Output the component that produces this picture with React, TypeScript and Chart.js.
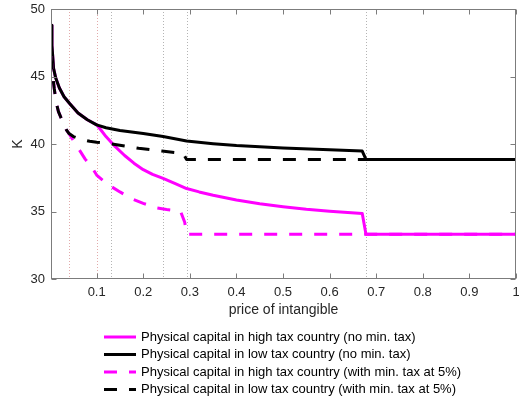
import React, { useEffect, useRef } from "react";
import { Chart, registerables } from "chart.js";

Chart.register(...registerables);

// Price of intangible (x) and physical capital K (y) for each scenario
const hiNoMinX = [0.002, 0.004, 0.0075, 0.012, 0.02, 0.03, 0.042, 0.06, 0.08, 0.1, 0.11, 0.12, 0.14, 0.16, 0.18, 0.2, 0.22, 0.2426, 0.27, 0.293, 0.32, 0.35, 0.4, 0.45, 0.5, 0.55, 0.6, 0.67, 0.678, 1];
const hiNoMinY = [48.8, 47.3, 45.6, 44.9, 44.15, 43.5, 43.0, 42.3, 41.8, 41.42, 41.0, 40.55, 39.8, 39.15, 38.58, 38.1, 37.75, 37.45, 37.05, 36.7, 36.45, 36.2, 35.85, 35.58, 35.36, 35.17, 35.02, 34.85, 33.31, 33.31];

const loNoMinX = [0.002, 0.004, 0.0075, 0.012, 0.02, 0.03, 0.042, 0.06, 0.08, 0.1, 0.12, 0.15, 0.2, 0.2426, 0.293, 0.35, 0.4, 0.5, 0.6, 0.67, 0.678, 1];
const loNoMinY = [48.8, 47.3, 45.6, 44.9, 44.15, 43.5, 43.0, 42.3, 41.8, 41.42, 41.2, 41.0, 40.78, 40.55, 40.22, 40.02, 39.88, 39.7, 39.57, 39.48, 38.86, 38.86];

const hiMinX = [0.002, 0.004, 0.006, 0.009, 0.013, 0.018, 0.024, 0.03, 0.035, 0.04, 0.05, 0.063, 0.075, 0.09, 0.1, 0.124, 0.15, 0.178, 0.2, 0.228, 0.25, 0.28, 0.289, 0.293, 1];
const hiMinY = [46.5, 45.7, 45.0, 44.1, 43.1, 42.4, 41.9, 41.4, 41.05, 40.8, 40.25, 39.55, 38.9, 38.25, 37.7, 37.0, 36.45, 35.9, 35.6, 35.28, 35.15, 35.02, 34.2, 33.31, 33.31];

const loMinX = [0.002, 0.004, 0.006, 0.009, 0.013, 0.018, 0.024, 0.03, 0.035, 0.04, 0.05, 0.06, 0.07, 0.085, 0.1, 0.13, 0.16, 0.19, 0.24, 0.27, 0.286, 0.293, 1];
const loMinY = [46.5, 45.7, 45.0, 44.1, 43.1, 42.4, 41.9, 41.4, 41.05, 40.8, 40.55, 40.42, 40.32, 40.2, 40.13, 40.02, 39.85, 39.68, 39.48, 39.36, 39.28, 38.86, 38.86];

const seriesLabels = [
  "Physical capital in high tax country (no min. tax)",
  "Physical capital in low tax country (no min. tax)",
  "Physical capital in high tax country (with min. tax at 5%)",
  "Physical capital in low tax country (with min. tax at 5%)",
];

const xTickValues = [0.1, 0.2, 0.3, 0.4, 0.5, 0.6, 0.7, 0.8, 0.9, 1];
const yTickValues = [30, 35, 40, 45, 50];

// Regime switch prices marked with dotted vertical lines
const switchPrices = [0.0404, 0.1006, 0.13, 0.2426, 0.293, 0.678];

const MAGENTA = "#ff00ff";
const BLACK = "#000000";
const DASH = [13, 12];
const FONT = "'Liberation Sans', Arial, Helvetica, sans-serif";
const AXIS_COLOR = "#7c7c7c";
const TEXT_COLOR = "#262626";

const toPoints = (xs: number[], ys: number[]) => xs.map((x, i) => ({ x, y: ys[i] }));

const framePlugin = {
  id: "frame",
  beforeDatasetsDraw(chart: any) {
    const { ctx, chartArea: a, scales } = chart;
    const x = scales.x;
    ctx.save();
    ctx.lineWidth = 1;
    ctx.setLineDash([1, 2]);
    switchPrices.forEach((v, i) => {
      const px = Math.round(x.getPixelForValue(v)) + 0.5;
      ctx.strokeStyle = i < 2 ? "#e2aaaa" : "#b4b4b4";
      ctx.beginPath();
      ctx.moveTo(px, a.top);
      ctx.lineTo(px, a.bottom);
      ctx.stroke();
    });
    ctx.restore();
  },
  afterDatasetsDraw(chart: any) {
    const { ctx, chartArea: a, scales } = chart;
    const x = scales.x;
    const y = scales.y;
    const L = Math.round(a.left) + 0.5;
    const R = Math.round(a.right) - 0.5;
    const T = Math.round(a.top) + 0.5;
    const B = Math.round(a.bottom) - 0.5;
    const tick = 5;
    ctx.save();
    ctx.strokeStyle = AXIS_COLOR;
    ctx.lineWidth = 1;
    ctx.setLineDash([]);
    ctx.strokeRect(L, T, R - L, B - T);
    ctx.beginPath();
    xTickValues.forEach((v) => {
      const px = Math.round(x.getPixelForValue(v)) + 0.5;
      ctx.moveTo(px, B);
      ctx.lineTo(px, B - tick);
      ctx.moveTo(px, T);
      ctx.lineTo(px, T + tick);
    });
    yTickValues.forEach((v) => {
      const py = Math.round(y.getPixelForValue(v)) + 0.5;
      ctx.moveTo(L, py);
      ctx.lineTo(L + tick, py);
      ctx.moveTo(R, py);
      ctx.lineTo(R - tick, py);
    });
    ctx.stroke();
    ctx.restore();
  },
  afterDraw(chart: any) {
    const { ctx } = chart;
    const left = 104;
    const sampleLen = 32;
    const textX = 141;
    const top = 337;
    const step = 17.5;
    ctx.save();
    ctx.font = `13px ${FONT}`;
    ctx.textBaseline = "middle";
    ctx.textAlign = "left";
    chart.data.datasets.forEach((ds: any, i: number) => {
      const yy = top + i * step;
      ctx.strokeStyle = ds.borderColor;
      ctx.lineWidth = ds.borderWidth;
      ctx.lineCap = "butt";
      ctx.setLineDash(ds.borderDash || []);
      ctx.beginPath();
      ctx.moveTo(left, yy);
      ctx.lineTo(left + sampleLen, yy);
      ctx.stroke();
      ctx.setLineDash([]);
      ctx.fillStyle = "#000";
      ctx.fillText(ds.label, textX, yy);
    });
    ctx.restore();
  },
};

export default function App() {
  const canvasRef = useRef<HTMLCanvasElement | null>(null);

  useEffect(() => {
    const canvas = canvasRef.current;
    if (!canvas) return;
    const lineBase = {
      borderWidth: 3,
      pointRadius: 0,
      tension: 0,
      fill: false,
      borderCapStyle: "butt",
      borderJoinStyle: "round",
    };
    const chart = new Chart(canvas, {
      type: "line",
      data: {
        datasets: [
          { ...lineBase, label: seriesLabels[0], data: toPoints(hiNoMinX, hiNoMinY), borderColor: MAGENTA, borderDash: [], order: 4 },
          { ...lineBase, label: seriesLabels[1], data: toPoints(loNoMinX, loNoMinY), borderColor: BLACK, borderDash: [], order: 3 },
          { ...lineBase, label: seriesLabels[2], data: toPoints(hiMinX, hiMinY), borderColor: MAGENTA, borderDash: DASH, order: 2 },
          { ...lineBase, label: seriesLabels[3], data: toPoints(loMinX, loMinY), borderColor: BLACK, borderDash: DASH, order: 1 },
        ] as any,
      },
      options: {
        animation: false,
        responsive: false,
        devicePixelRatio: 1,
        events: [],
        layout: { padding: { top: 9, right: 3, left: 0, bottom: 0 } },
        plugins: {
          legend: { display: false },
          tooltip: { enabled: false },
        },
        scales: {
          x: {
            type: "linear",
            min: 0.002,
            max: 1,
            grid: { display: false, drawTicks: false },
            border: { display: false },
            afterBuildTicks: (s: any) => {
              s.ticks = xTickValues.map((value) => ({ value }));
            },
            afterFit: (s: any) => {
              s.height = 124;
              s.paddingLeft = 0;
              s.paddingRight = 0;
            },
            ticks: {
              padding: 6,
              autoSkip: false,
              maxRotation: 0,
              color: TEXT_COLOR,
              font: { family: FONT, size: 13 },
              callback: (v: any) => String(v),
            },
            title: {
              display: true,
              text: "price of intangible",
              color: TEXT_COLOR,
              font: { family: FONT, size: 14 },
              padding: { top: 0, bottom: 84 },
            },
          },
          y: {
            type: "linear",
            min: 30,
            max: 50,
            grid: { display: false, drawTicks: false },
            border: { display: false },
            afterBuildTicks: (s: any) => {
              s.ticks = yTickValues.map((value) => ({ value }));
            },
            afterFit: (s: any) => {
              s.width = 51;
              s.paddingTop = 0;
              s.paddingBottom = 0;
            },
            ticks: {
              padding: 6,
              color: TEXT_COLOR,
              font: { family: FONT, size: 13 },
              callback: (v: any) => String(v),
            },
            title: {
              display: true,
              text: "K",
              color: TEXT_COLOR,
              font: { family: FONT, size: 14 },
              padding: { top: 9.6, bottom: 0 },
            },
          },
        },
      } as any,
      plugins: [framePlugin],
    });
    return () => chart.destroy();
  }, []);

  return (
    <div style={{ position: "absolute", left: 0, top: 0, width: 519, height: 403, background: "#fff" }}>
      <canvas ref={canvasRef} width={519} height={403} style={{ display: "block" }} />
    </div>
  );
}
